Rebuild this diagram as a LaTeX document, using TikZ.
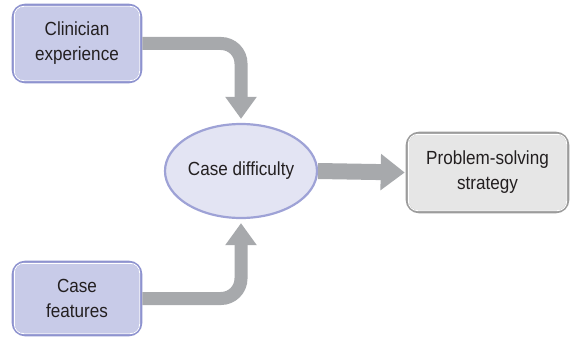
\documentclass[tikz,border=0pt]{standalone}
\usepackage{fontspec}
\setmainfont{Liberation Sans}[FakeStretch=0.9]
\usetikzlibrary{arrows.meta,shapes.geometric}
\definecolor{boxfill}{HTML}{C8CBE8}
\definecolor{boxline}{HTML}{8E93CF}
\definecolor{ellfill}{HTML}{E3E4F3}
\definecolor{ellline}{HTML}{9EA2D6}
\definecolor{outfill}{HTML}{E6E6E6}
\definecolor{outline}{HTML}{9C9C9C}
\definecolor{flow}{HTML}{A7A9AC}
\definecolor{ink}{HTML}{231F20}
\begin{document}
\begin{tikzpicture}[x=1pt,y=-1pt,
  txt/.style={text=ink,align=center,font=\fontsize{19}{25}\selectfont},
  inputbox/.style={txt,draw=boxline,fill=boxfill,line width=2.6pt,rounded corners=12pt,
    minimum width=128pt,inner sep=0pt},
  centre/.style={txt,ellipse,draw=ellline,fill=ellfill,line width=2.2pt,
    minimum width=152pt,minimum height=94pt,inner sep=0pt},
  outputbox/.style={txt,draw=outline,fill=outfill,line width=2.6pt,rounded corners=12pt,
    minimum width=161pt,minimum height=79pt,inner sep=0pt},
  innerline/.style={white,line width=0.9pt,rounded corners=9.5pt},
  flowarrow/.style={draw=flow,line width=13pt,rounded corners=20pt,
    -{Triangle[length=22pt,width=30pt]}},
]
\useasboundingbox (0,0) rectangle (572,337);

\node[inputbox,minimum height=77pt] (clin) at (77,43.5) {Clinician\\experience};
\node[inputbox,minimum height=73pt] (feat) at (77,298.5) {Case\\features};
\node[centre] (diff) at (241,171) {Case difficulty};
\node[outputbox] (strat) at (487.5,172.5) {Problem-solving\\strategy};

% thin white highlight just inside each box border
\foreach \b in {clin,feat,strat}
  \draw[innerline] ([shift={(2.6pt,-2.6pt)}]\b.north west) rectangle ([shift={(-2.6pt,2.6pt)}]\b.south east);

% grey flow arrows
\draw[flowarrow] (clin.east) -| ([yshift=4pt]diff.north);
\draw[flowarrow] (feat.east) -| ([yshift=-4pt]diff.south);
\draw[draw=flow,line width=16pt,-{Triangle[length=24pt,width=35pt]}]
  (diff.east) -- ([xshift=-1pt]strat.west);
\end{tikzpicture}
\end{document}
